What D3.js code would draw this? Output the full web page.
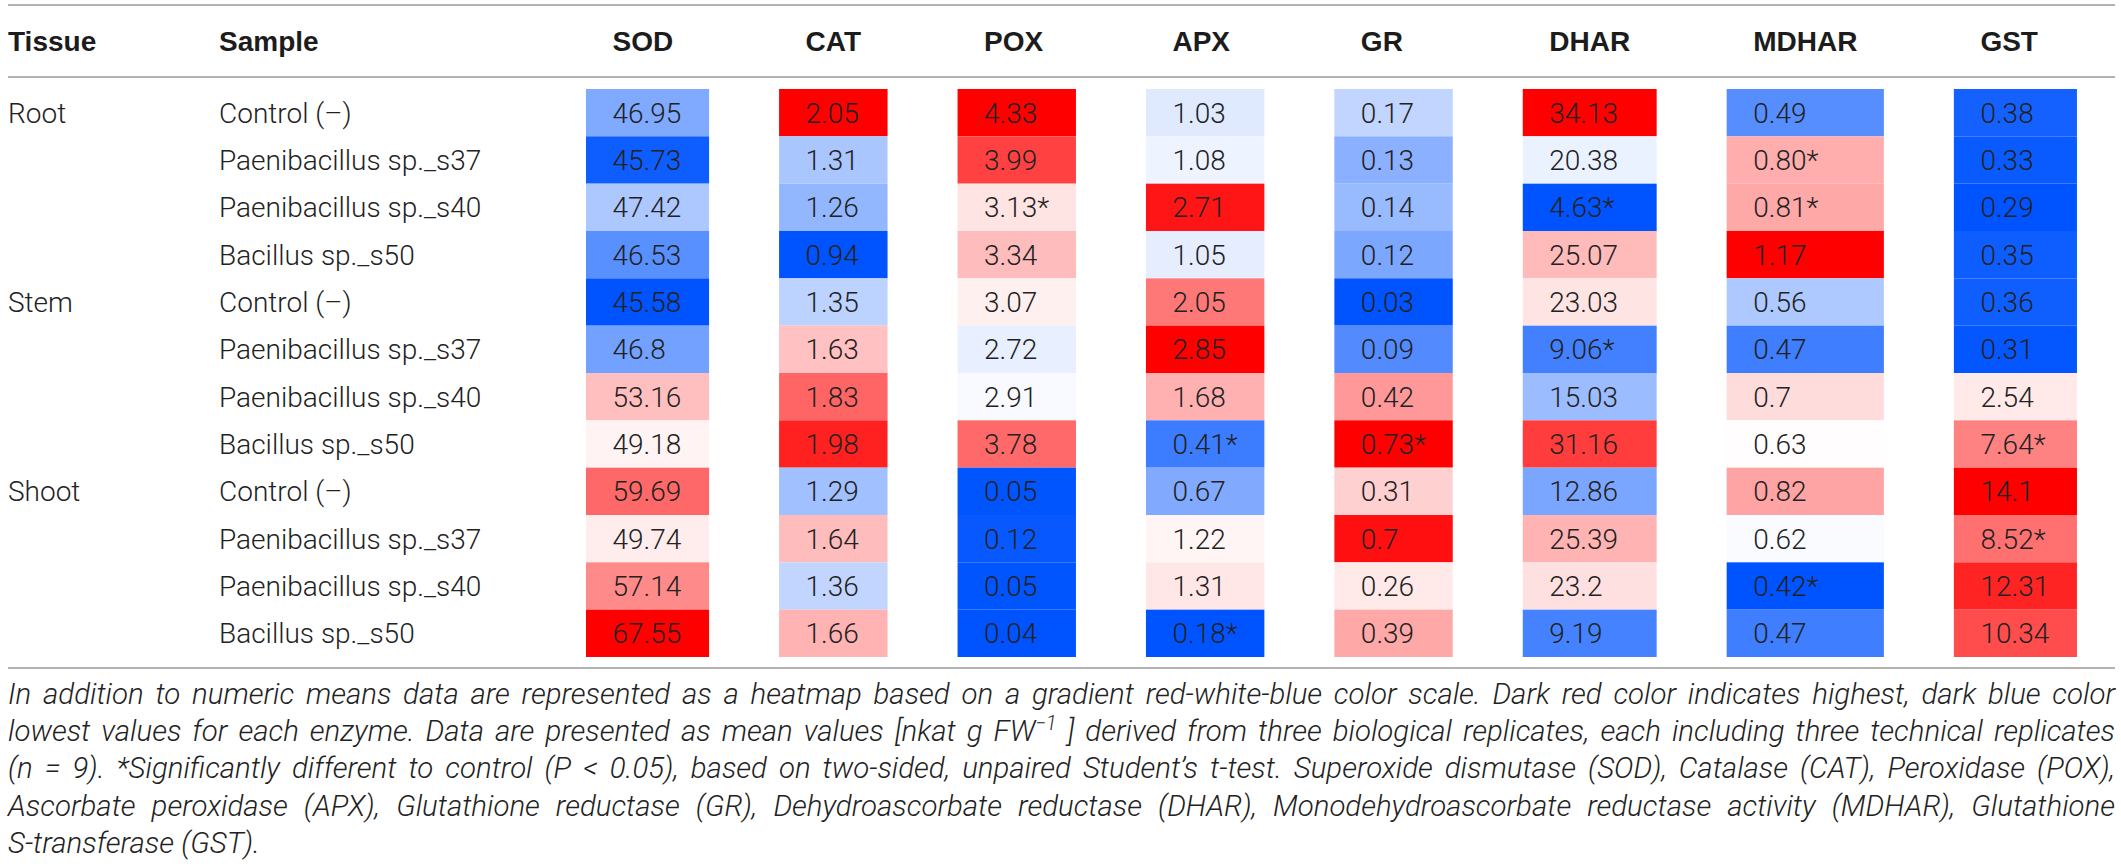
<!DOCTYPE html>
<html><head><meta charset="utf-8">
<script src="https://cdn.jsdelivr.net/npm/d3@7"></script>
<style>body{margin:0;background:#fff} svg{display:block}</style>
</head><body>
<script>
// ---------- data ----------
const tissues = ["Root", "Stem", "Shoot"];
const samples = ["Control (–)", "Paenibacillus sp._s37", "Paenibacillus sp._s40", "Bacillus sp._s50"];
const enzymes = ["SOD", "CAT", "POX", "APX", "GR", "DHAR", "MDHAR", "GST"];
// values as printed (row order: Root ×4, Stem ×4, Shoot ×4); "*" = significant
const SOD   = ["46.95","45.73","47.42","46.53","45.58","46.8","53.16","49.18","59.69","49.74","57.14","67.55"];
const CAT   = ["2.05","1.31","1.26","0.94","1.35","1.63","1.83","1.98","1.29","1.64","1.36","1.66"];
const POX   = ["4.33","3.99","3.13*","3.34","3.07","2.72","2.91","3.78","0.05","0.12","0.05","0.04"];
const APX   = ["1.03","1.08","2.71","1.05","2.05","2.85","1.68","0.41*","0.67","1.22","1.31","0.18*"];
const GR    = ["0.17","0.13","0.14","0.12","0.03","0.09","0.42","0.73*","0.31","0.7","0.26","0.39"];
const DHAR  = ["34.13","20.38","4.63*","25.07","23.03","9.06*","15.03","31.16","12.86","25.39","23.2","9.19"];
const MDHAR = ["0.49","0.80*","0.81*","1.17","0.56","0.47","0.7","0.63","0.82","0.62","0.42*","0.47"];
const GST   = ["0.38","0.33","0.29","0.35","0.36","0.31","2.54","7.64*","14.1","8.52*","12.31","10.34"];
const footnoteLines = [
  ["In addition to numeric means data are represented as a heatmap based on a gradient red-white-blue color scale. Dark red color indicates highest, dark blue color"],
  ["lowest values for each enzyme. Data are presented as mean values [nkat g FW", {sup: "−1"}, " ] derived from three biological replicates, each including three technical replicates"],
  ["(n = 9). *Significantly different to control (P < 0.05), based on two-sided, unpaired Student’s t-test. Superoxide dismutase (SOD), Catalase (CAT), Peroxidase (POX),"],
  ["Ascorbate peroxidase (APX), Glutathione reductase (GR), Dehydroascorbate reductase (DHAR), Monodehydroascorbate reductase activity (MDHAR), Glutathione"],
  ["S-transferase (GST)."]
];
const columns = {SOD, CAT, POX, APX, GR, DHAR, MDHAR, GST};

// ---------- layout ----------
const W = 2121, H = 866;
const metricFont = "'Liberation Sans', Arial, Helvetica, sans-serif";
const headFont = "'Liberation Sans', Arial, Helvetica, sans-serif";
const bodyFont = "Roboto, 'Liberation Sans', Arial, sans-serif";
const fs = 28;
const red = "#ff0000", blue = "#0054ff", white = "#ffffff";

const svg = d3.select("body").append("svg").attr("width", W).attr("height", H);

function measure(txt, family, weight, size, style) {
  const t = svg.append("text").attr("font-family", family).attr("font-size", size)
    .attr("font-weight", weight || "normal").attr("font-style", style || "normal").text(txt);
  const w = t.node().getComputedTextLength();
  t.remove();
  return w;
}

const rows = tissues.flatMap(t => samples.map((s, i) => ({tissue: t, sample: s, first: i === 0})));
const y = d3.scaleBand().domain(d3.range(rows.length)).range([89, 657]).padding(0);

// table-like column widths from content (Helvetica-like metrics)
const pad = 26.5, gap = 70, firstLeft = 586;
const widths = enzymes.map(e => Math.max(measure(e, headFont, "bold", fs),
  d3.max(columns[e], v => measure(v, metricFont, "normal", fs))) + 2 * pad);
const lefts = [];
enzymes.forEach((e, i) => lefts.push(i === 0 ? firstLeft : lefts[i - 1] + widths[i - 1] + gap));
const xLeft = d3.scaleOrdinal().domain(enzymes).range(lefts);
const xWidth = d3.scaleOrdinal().domain(enzymes).range(widths);
const tissueX = 8, sampleX = 219;

// rules
const ruleColor = "#9a9a9a";
[5, 77, 668].forEach(yy => svg.append("line").attr("x1", 8).attr("x2", 2115)
  .attr("y1", yy).attr("y2", yy).attr("stroke", ruleColor).attr("stroke-width", 1.6));

// headers
const headY = 51;
const hdr = svg.append("g").attr("font-family", headFont).attr("font-weight", "bold")
  .attr("font-size", fs).attr("fill", "#1c1c1c");
hdr.append("text").attr("x", tissueX).attr("y", headY).text("Tissue");
hdr.append("text").attr("x", sampleX).attr("y", headY).text("Sample");
hdr.selectAll("text.enz").data(enzymes).join("text").attr("class", "enz")
  .attr("x", e => xLeft(e) + pad).attr("y", headY).text(e => e);

// row labels
const lab = svg.append("g").attr("font-family", bodyFont).attr("font-weight", 300)
  .attr("font-size", fs).attr("fill", "#222");
lab.selectAll("text.tis").data(rows.map((r, i) => ({...r, i})).filter(r => r.first)).join("text")
  .attr("class", "tis").attr("x", tissueX).attr("y", r => y(r.i) + y.bandwidth() / 2).attr("dy", "0.36em")
  .text(r => r.tissue);
lab.selectAll("text.smp").data(rows).join("text").attr("class", "smp")
  .attr("x", sampleX).attr("y", (r, i) => y(i) + y.bandwidth() / 2).attr("dy", "0.36em")
  .text(r => r.sample);

// heatmap cells
enzymes.forEach(e => {
  const vals = columns[e].map(v => parseFloat(v));
  const color = d3.scaleLinear()
    .domain([d3.min(vals), d3.median(vals), d3.max(vals)])
    .range([blue, white, red]).interpolate(d3.interpolateRgb);
  const g = svg.append("g");
  const data = columns[e].map((label, i) => ({label, v: vals[i], i}));
  g.selectAll("rect").data(data).join("rect")
    .attr("x", xLeft(e)).attr("width", xWidth(e))
    .attr("y", d => y(d.i)).attr("height", y.bandwidth())
    .attr("fill", d => color(d.v));
  g.selectAll("text").data(data).join("text")
    .attr("x", xLeft(e) + pad).attr("y", d => y(d.i) + y.bandwidth() / 2).attr("dy", "0.36em")
    .attr("font-family", bodyFont).attr("font-weight", 300)
    .attr("font-size", fs).attr("fill", "#222").text(d => d.label);
});

// footnote (justified, italic)
const fnSize = 30, fnLeft = 8, fnRight = 2115, lastLineWidth = 252;
const lastNat = measure(footnoteLines[footnoteLines.length - 1][0], bodyFont, 300, fnSize, "italic");
const sx = Math.min(1, lastLineWidth / lastNat);
const fn = svg.append("g").attr("transform", `translate(${fnLeft},0) scale(${sx},1)`)
  .attr("font-family", bodyFont).attr("font-weight", 300)
  .attr("font-style", "italic").attr("font-size", fnSize).attr("fill", "#222");
const supShift = fnSize * 0.38;
footnoteLines.forEach((parts, li) => {
  const t = fn.append("text").attr("x", 0).attr("y", 704 + li * 37.2);
  let spaces = 0, pendingDy = 0;
  parts.forEach(p => {
    if (typeof p === "string") {
      const ts = t.append("tspan").text(p);
      if (pendingDy) { ts.attr("dy", pendingDy); pendingDy = 0; }
      spaces += (p.match(/ /g) || []).length;
    } else {
      t.append("tspan").attr("font-size", fnSize * 0.66).attr("dy", -supShift).text(p.sup);
      pendingDy = supShift;
    }
  });
  if (li < footnoteLines.length - 1) {
    const natural = t.node().getComputedTextLength();
    const target = (fnRight - fnLeft) / sx;
    t.attr("word-spacing", (target - natural) / spaces);
  }
});
</script>
</body></html>
